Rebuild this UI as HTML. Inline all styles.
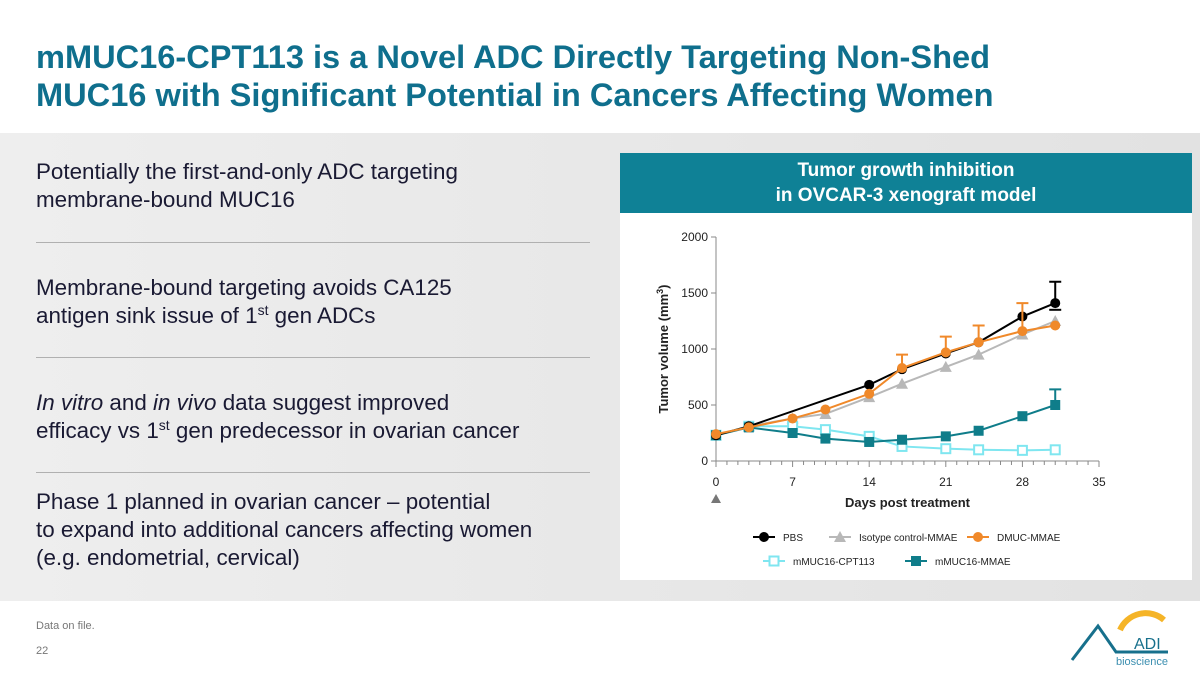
<!DOCTYPE html>
<html><head><meta charset="utf-8"><style>
body{margin:0;width:1200px;height:675px;overflow:hidden;background:#fff;font-family:"Liberation Sans",sans-serif;position:relative}
.t{position:absolute;left:36px;top:38px;font-size:32.6px;font-weight:bold;color:#0f6f8d;line-height:38px;margin:0;white-space:nowrap}
.band{position:absolute;left:0;top:133px;width:1200px;height:468px;background:linear-gradient(90deg,#eeeeee,#e2e2e2)}
.b{position:absolute;left:36px;font-size:22.4px;color:#1a1a33;line-height:28px;white-space:nowrap}
.b sup{font-size:14px;line-height:0;vertical-align:8px}
.hr{position:absolute;left:36px;width:554px;border-top:1px solid #b0b0b0}
.panel{position:absolute;left:620px;top:153px;width:572px;height:427px;background:#fff}
.ph{height:60px;background:#0f8196;color:#fff;font-weight:bold;font-size:19px;text-align:center;line-height:25px;padding-top:5px;box-sizing:border-box}
</style></head><body>
<h1 class="t">mMUC16-CPT113 is a Novel ADC Directly Targeting Non-Shed<br>MUC16 with Significant Potential in Cancers Affecting Women</h1>
<div class="band"></div>
<div class="b" style="top:158px">Potentially the first-and-only ADC targeting<br>membrane-bound MUC16</div>
<div class="hr" style="top:242px"></div>
<div class="b" style="top:274px">Membrane-bound targeting avoids CA125<br>antigen sink issue of 1<sup>st</sup> gen ADCs</div>
<div class="hr" style="top:357px"></div>
<div class="b" style="top:389px"><i>In vitro</i> and <i>in vivo</i> data suggest improved<br>efficacy vs 1<sup>st</sup> gen predecessor in ovarian cancer</div>
<div class="hr" style="top:472px"></div>
<div class="b" style="top:488px">Phase 1 planned in ovarian cancer – potential<br>to expand into additional cancers affecting women<br>(e.g. endometrial, cervical)</div>
<div class="panel"><div class="ph">Tumor growth inhibition<br>in OVCAR-3 xenograft model</div></div>
<svg id="c" width="1200" height="675" style="position:absolute;left:0;top:0"></svg>
<div style="position:absolute;left:36px;top:620px;font-size:11px;color:#777">Data on file.</div>
<div style="position:absolute;left:36px;top:645px;font-size:11px;color:#777">22</div>
<svg style="position:absolute;left:1068px;top:600px" width="130" height="70">
<path d="M52 30 A28 28 0 0 1 96 20" stroke="#f5b427" stroke-width="6" fill="none"/>
<path d="M4 60 L30 26 L48 52 L100 52" stroke="#17708c" stroke-width="3" fill="none"/>
<text x="66" y="49" font-size="16" fill="#17708c" font-family="Liberation Sans">ADI</text>
<text x="48" y="65" font-size="11" fill="#3c8fb0" font-family="Liberation Sans">bioscience</text>
</svg>
<script>
const days=[0,3,7,10,14,17,21,24,28,31];
const pbsDays=[0,3,14,17,21,24,28,31];
const pbs=[230,310,680,820,960,1060,1290,1410];
const iso=[230,310,380,420,570,690,840,950,1130,1250];
const dmuc=[240,300,380,460,600,830,970,1060,1160,1210];
const cpt=[230,310,310,280,220,130,110,100,95,100];
const mmae=[230,300,250,200,170,190,220,270,400,500];
const pbsErr=[null,null,null,null,null,null,null,1600];
const dmucErr=[null,null,null,null,null,950,1110,1210,1410,null];
const mmaeErr=[null,null,null,null,null,null,null,null,null,640];
const yTicks=[0,500,1000,1500,2000];
const xTicks=[0,7,14,21,28,35];
const X=d=>716+d*(383/35), Y=v=>461-v*(224/2000);
const svg=document.getElementById('c');const NS='http://www.w3.org/2000/svg';
function el(t,a,p){const e=document.createElementNS(NS,t);for(const k in a)e.setAttribute(k,a[k]);(p||svg).appendChild(e);return e;}
let ax=el('path',{d:`M${X(0)} ${Y(2000)}V${Y(0)}H${X(35)}`,stroke:'#888',fill:'none'});


for(let d=0;d<=35;d++){el('line',{x1:X(d),x2:X(d),y1:Y(0),y2:Y(0)+(d%7?4:6),stroke:'#888'});}
yTicks.forEach(v=>{el('line',{x1:X(0)-5,x2:X(0),y1:Y(v),y2:Y(v),stroke:'#888'});
 const t=el('text',{x:X(0)-8,y:Y(v)+4,'text-anchor':'end','font-size':12,fill:'#222'});t.textContent=v;
 
 });
xTicks.forEach(v=>{const t=el('text',{x:X(v),y:Y(0)+25,'text-anchor':'middle','font-size':12,fill:'#222'});t.textContent=v;
 
 });
el('path',{d:`M${X(0)-5} ${Y(0)+42}l5 -9l5 9z`,fill:'#777'});
let xt=el('text',{x:X(17.5),y:507,'text-anchor':'middle','font-size':13,'font-weight':'bold',fill:'#222'});xt.textContent='Days post treatment';


let yt=el('text',{transform:`translate(668,349) rotate(-90)`,'text-anchor':'middle','font-size':13,'font-weight':'bold',fill:'#222'});yt.innerHTML='Tumor volume (mm<tspan dy="-5" font-size="9">3</tspan><tspan dy="5">)</tspan>';


function marker(type,x,y,c,g){
 if(type=='c')el('circle',{cx:x,cy:y,r:5,fill:c},g);
 else if(type=='t')el('path',{d:`M${x-6} ${y+5}L${x} ${y-6}L${x+6} ${y+5}z`,fill:c},g);
 else if(type=='s')el('rect',{x:x-5,y:y-5,width:10,height:10,fill:c},g);
 else el('rect',{x:x-4.5,y:y-4.5,width:9,height:9,fill:'#fff',stroke:c,'stroke-width':2},g);}
function series(name,ds,vals,c,type,errs){
 const g=el('g',{});
 
 
 el('polyline',{points:ds.map((d,i)=>X(d)+','+Y(vals[i])).join(' '),fill:'none',stroke:c,'stroke-width':2},g);
 if(errs)errs.forEach((e,i)=>{if(e!=null){el('path',{d:`M${X(ds[i])} ${Y(vals[i])}V${Y(e)}M${X(ds[i])-6} ${Y(e)}h12`,stroke:c,'stroke-width':2,fill:'none'},g);}});
 ds.forEach((d,i)=>marker(type,X(d),Y(vals[i]),c,g));}
series('series-isotype',days,iso,'#b8b8b8','t');
series('series-mmuc16-cpt113',days,cpt,'#7fe6f0','o');
series('series-mmuc16-mmae',days,mmae,'#0f7d8a','s',mmaeErr);
series('series-pbs',pbsDays,pbs,'#000','c',pbsErr);
el('path',{d:`M${X(31)-6} ${Y(1350)}h12`,stroke:'#000','stroke-width':2});
series('series-dmuc-mmae',days,dmuc,'#f0892a','c',dmucErr);
const leg=[['PBS','#000','c',753,537],['Isotype control-MMAE','#b8b8b8','t',829,537],['DMUC-MMAE','#f0892a','c',967,537],['mMUC16-CPT113','#7fe6f0','o',763,561],['mMUC16-MMAE','#0f7d8a','s',905,561]];
leg.forEach(l=>{const g=el('g',{});
 
 
 el('line',{x1:l[3],x2:l[3]+22,y1:l[4],y2:l[4],stroke:l[1],'stroke-width':2},g);marker(l[2],l[3]+11,l[4],l[1],g);
 const t=el('text',{x:l[3]+30,y:l[4]+4,'font-size':10,fill:'#222'},g);t.textContent=l[0];});
</script>
</body></html>
